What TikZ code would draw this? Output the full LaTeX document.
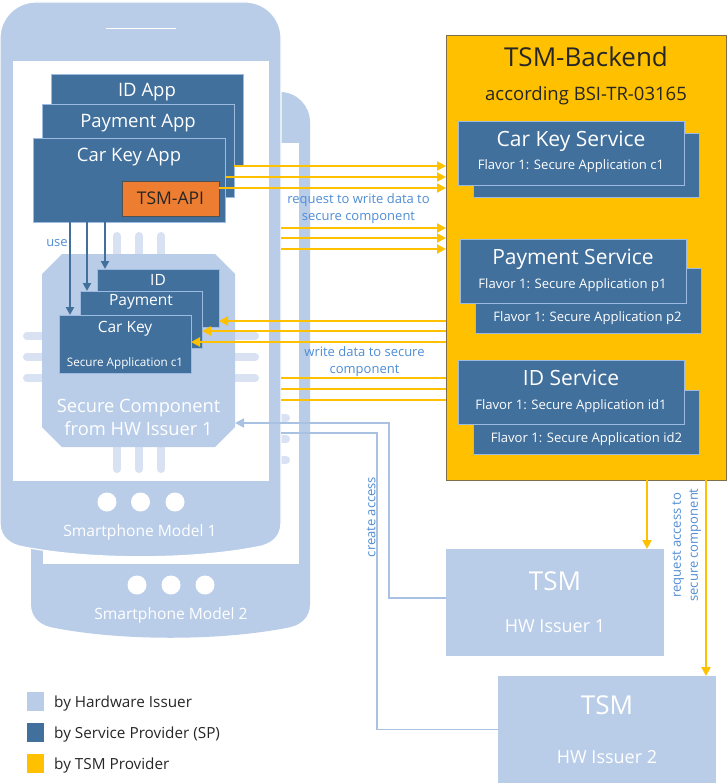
\documentclass[tikz,border=0pt]{standalone}
\usepackage{fontspec}
\setmainfont{Open Sans}
\usetikzlibrary{arrows.meta,positioning}
\definecolor{hwblue}{HTML}{B9CDE9}
\definecolor{hwpin}{HTML}{D9E2F3}
\definecolor{accblue}{HTML}{A9C2E4}
\definecolor{spblue}{HTML}{41709C}
\definecolor{spedge}{HTML}{9DBBE0}
\definecolor{tsmyellow}{HTML}{FFC000}
\definecolor{tsmedge}{HTML}{7F6D4C}
\definecolor{apiorange}{HTML}{ED7D31}
\definecolor{labelblue}{HTML}{4F8DD3}
\definecolor{darktext}{HTML}{262626}
\tikzset{
  box/.style = {rectangle, inner sep=0pt, outer sep=0pt},
  hw_box/.style = {box, fill=hwblue},
  sp_box/.style = {box, fill=spblue, draw=spedge, line width=0.6pt},
  chip_box/.style = {box, minimum width=193pt, minimum height=193pt},
  tsm_box/.style = {box, fill=tsmyellow, draw=tsmedge, line width=1pt},
  api_box/.style = {box, fill=apiorange, draw=darktext!80, line width=0.6pt, text=darktext,
    font=\fontsize{17.5}{21}\selectfont},
  legend_sq/.style = {box, minimum width=17pt, minimum height=19pt},
  txt/.style = {inner sep=0pt, text depth=0pt, align=center},
  txt_w/.style = {txt, text=white},
  txt_app/.style = {txt_w, font=\fontsize{18.5}{22}\selectfont},
  txt_svc/.style = {txt_w, font=\fontsize{21}{25}\selectfont},
  txt_flav/.style = {txt_w, font=\fontsize{13.1}{16}\selectfont},
  txt_sec/.style = {txt_w, font=\fontsize{15.5}{18}\selectfont},
  txt_secsmall/.style = {txt_w, font=\fontsize{11.7}{14}\selectfont},
  txt_chip/.style = {txt_w, font=\fontsize{18.3}{23}\selectfont},
  txt_phone/.style = {txt_w, font=\fontsize{15.6}{19}\selectfont},
  txt_tsm/.style = {txt_w, font=\fontsize{26}{30}\selectfont},
  txt_issuer/.style = {txt_w, font=\fontsize{18}{22}\selectfont},
  txt_title/.style = {txt, text=darktext, font=\fontsize{26}{30}\selectfont},
  txt_sub/.style = {txt, text=darktext, font=\fontsize{18.5}{22}\selectfont},
  txt_lbl/.style = {txt, text=labelblue, font=\fontsize{13}{17}\selectfont},
  txt_leg/.style = {txt, text=darktext, anchor=west, font=\fontsize{15.3}{18}\selectfont},
  chip_pin/.style = {hwpin, line width=8pt, line cap=round},
  req_arrow/.style = {tsmyellow, line width=2.2pt, -{Triangle[length=9pt,width=9pt]}},
  req_line/.style = {tsmyellow, line width=2.2pt},
  use_arrow/.style = {spblue, line width=2pt, -{Triangle[length=8pt,width=8pt]}},
  acc_arrow/.style = {accblue, line width=1.8pt, -{Triangle[length=9pt,width=9pt]}},
  acc_line/.style = {accblue, line width=1.8pt}
}
\begin{document}
\begin{tikzpicture}[x=1pt,y=-1pt]
\useasboundingbox (0,0) rectangle (727,784);

% smartphone model 2
\fill[hwblue] (31,122) .. controls (31,106) and (44,92) .. (61,92) -- (280,92)
  .. controls (297,92) and (310,106) .. (310,122) -- (310,604)
  .. controls (310,618) and (300,626) .. (286,628) .. controls (219,641) and (122,641) .. (55,628)
  .. controls (41,626) and (31,618) .. (31,604) -- cycle;
\fill[white] (43,143) rectangle (299,564);
\foreach \y in {418,439,460} \draw[chip_pin] (270,\y) -- (286,\y);
\foreach \x in {137,171,205} \fill[white] (\x,585) circle (9.5pt);
\node[txt_phone] (model2) at (171,614) {Smartphone Model 2};

% smartphone model 1
\fill[hwblue, draw=white, line width=1.2pt] (0,38) .. controls (0,18) and (16,2) .. (36,2) -- (245,2)
  .. controls (265,2) and (281,18) .. (281,38) -- (281,523)
  .. controls (281,537) and (271,545) .. (257,547) .. controls (190,560) and (91,560) .. (24,547)
  .. controls (10,545) and (0,537) .. (0,523) -- cycle;
\fill[white] (13,61) rectangle (269,481);
\draw[white, line width=1pt] (106,29) -- (176,29);
\foreach \x in {107,140.5,175} \fill[white] (\x,502) circle (9.5pt);
\node[txt_phone] (model1) at (140,531) {Smartphone Model 1};

% secure component
\foreach \x in {117,139,161} {
  \draw[chip_pin] (\x,236) -- (\x,260);
  \draw[chip_pin] (\x,440) -- (\x,469);
}
\foreach \y in {336,357,378} {
  \draw[chip_pin] (27,\y) -- (50,\y);
  \draw[chip_pin] (228,\y) -- (255,\y);
}
\node[chip_box] (chip) at (138.5,350.5) {};
\fill[hwblue] ([xshift=20pt]chip.north west) -- ([xshift=-20pt]chip.north east)
  -- ([yshift=-20pt]chip.north east) -- ([yshift=20pt]chip.south east)
  -- ([xshift=-20pt]chip.south east) -- ([xshift=20pt]chip.south west)
  -- ([yshift=20pt]chip.south west) -- ([yshift=-20pt]chip.north west) -- cycle;
\node[txt_chip] (chipT) at (138.5,417.5) {Secure Component\\from HW Issuer 1};

\node[sp_box, minimum width=122pt, minimum height=58pt] (secid) at (158,298) {};
\node[txt_sec] (secidT) at (158,280) {ID};
\node[sp_box, minimum width=122pt, minimum height=57pt] (secpay) at (141,319.5) {};
\node[txt_sec] (secpayT) at (141,300) {Payment};
\node[sp_box, minimum width=132pt, minimum height=58pt] (seccar) at (125,344) {};
\node[txt_sec] (seccarT) at (125,327) {Car Key};
\node[txt_secsmall] (seccarF) at (125,362) {Secure Application c1};

% apps
\node[sp_box, minimum width=192pt, minimum height=92pt] (idapp) at (147,120) {};
\node[txt_app] (idappT) at (147,90) {ID App};
\node[sp_box, minimum width=192pt, minimum height=93pt] (payapp) at (138,150.5) {};
\node[txt_app] (payappT) at (138,121) {Payment App};
\node[sp_box, minimum width=192pt, minimum height=84pt] (carapp) at (129,180) {};
\node[txt_app] (carappT) at (129,155) {Car Key App};
\node[api_box, minimum width=97pt, minimum height=35pt] (tsmapi) at (170.5,198.5) {TSM-API};

% TSM backend
\node[tsm_box, minimum width=280pt, minimum height=444pt] (backend) at (586,258) {};
\node[txt_title] (backendT) at (586,57) {TSM-Backend};
\node[txt_sub] (backendS) at (586,93) {according BSI-TR-03165};

\node[sp_box, minimum width=226pt, minimum height=64pt] (carsvc2) at (586,165) {};
\node[sp_box, minimum width=226pt, minimum height=64pt] (carsvc) at (571,153) {};
\node[txt_svc] (carsvcT) at (571,139) {Car Key Service};
\node[txt_flav] (carsvcF) at (571,165) {Flavor 1: Secure Application c1};

\node[sp_box, minimum width=226pt, minimum height=65pt] (paysvc2) at (588,300.5) {};
\node[txt_flav] (paysvcF2) at (587.5,317) {Flavor 1: Secure Application p2};
\node[sp_box, minimum width=226pt, minimum height=64pt] (paysvc) at (573,271) {};
\node[txt_svc] (paysvcT) at (573,257) {Payment Service};
\node[txt_flav] (paysvcF) at (572.5,284) {Flavor 1: Secure Application p1};

\node[sp_box, minimum width=226pt, minimum height=64pt] (idsvc2) at (586,422) {};
\node[txt_flav] (idsvcF2) at (586.5,438) {Flavor 1: Secure Application id2};
\node[sp_box, minimum width=226pt, minimum height=64pt] (idsvc) at (571,392) {};
\node[txt_svc] (idsvcT) at (571,378) {ID Service};
\node[txt_flav] (idsvcF) at (571,405) {Flavor 1: Secure Application id1};

% TSM of the hardware issuers
\node[hw_box, minimum width=218pt, minimum height=107pt] (tsm1) at (555,602.5) {};
\node[txt_tsm] (tsm1T) at (555,581) {TSM};
\node[txt_issuer] (tsm1S) at (555,626) {HW Issuer 1};
\node[hw_box, minimum width=218pt, minimum height=107pt] (tsm2) at (607,729.5) {};
\node[txt_tsm] (tsm2T) at (607,705) {TSM};
\node[txt_issuer] (tsm2S) at (607,757) {HW Issuer 2};

% connectors
\coordinate (r1) at ([xshift=-9pt]idapp.south east);
\coordinate (r2) at ([xshift=-9pt,yshift=-26.5pt]payapp.east);
\coordinate (r3) at ([yshift=10.5pt]tsmapi.east);
\coordinate (m2r1) at (281,228);
\coordinate (m2r2) at (281,238);
\coordinate (m2r3) at (281,249);
\foreach \c in {r1,r2,r3,m2r1,m2r2,m2r3}
  \draw[req_arrow] (\c) -- (\c -| backend.west);

\coordinate (w1) at ([yshift=-23pt]secid.east);
\coordinate (w2) at ([yshift=-11.5pt]secpay.east);
\coordinate (w3) at ([yshift=2pt]seccar.east);
\foreach \c in {w1,w2,w3}
  \draw[req_arrow] (backend.west |- \c) -- (\c);
\coordinate (m2w1) at (281,378);
\coordinate (m2w2) at (281,389);
\coordinate (m2w3) at (281,400);
\foreach \c in {m2w1,m2w2,m2w3}
  \draw[req_line] (backend.west |- \c) -- (\c);

\coordinate (d1) at ([xshift=92pt]tsm1.north);
\coordinate (d2) at ([xshift=99pt]tsm2.north);
\foreach \c in {d1,d2}
  \draw[req_arrow] (\c |- backend.south) -- (\c);

\coordinate (u1) at ([xshift=-55pt]seccar.north);
\coordinate (u2) at ([xshift=-54pt]secpay.north);
\coordinate (u3) at ([xshift=-53pt]secid.north);
\foreach \c in {u1,u2,u3}
  \draw[use_arrow] (\c |- carapp.south) -- (\c);

\draw[acc_arrow] ([yshift=4.5pt]tsm1.west) -- ++(-57pt,0) |- ([yshift=-72.5pt]chip.east);
\coordinate (m2acc) at (281,433);
\draw[acc_line] (tsm2.west) -- ++(-121pt,0) |- (m2acc);

% labels
\node[txt_lbl] (reqlbl) at (358.5,207.5) {request to write data to\\secure component};
\node[txt_lbl] (wrlbl) at (364.5,360.5) {write data to secure\\component};
\node[txt_lbl] (uselbl) at (57,243) {use};
\node[txt_lbl, rotate=90] (acclbl) at (371,517) {create access};
\node[txt_lbl, rotate=90] (raclbl) at (685,545) {request access to\\secure component};

% legend
\node[legend_sq, fill=hwblue] (leghw) at (35.5,701.5) {};
\node[txt_leg, right=10pt of leghw] (leghwT) {by Hardware Issuer};
\node[legend_sq, fill=spblue] (legsp) at (35.5,732.5) {};
\node[txt_leg, right=10pt of legsp] (legspT) {by Service Provider (SP)};
\node[legend_sq, fill=tsmyellow] (legtsm) at (35.5,763.5) {};
\node[txt_leg, right=10pt of legtsm] (legtsmT) {by TSM Provider};
\end{tikzpicture}
\end{document}
